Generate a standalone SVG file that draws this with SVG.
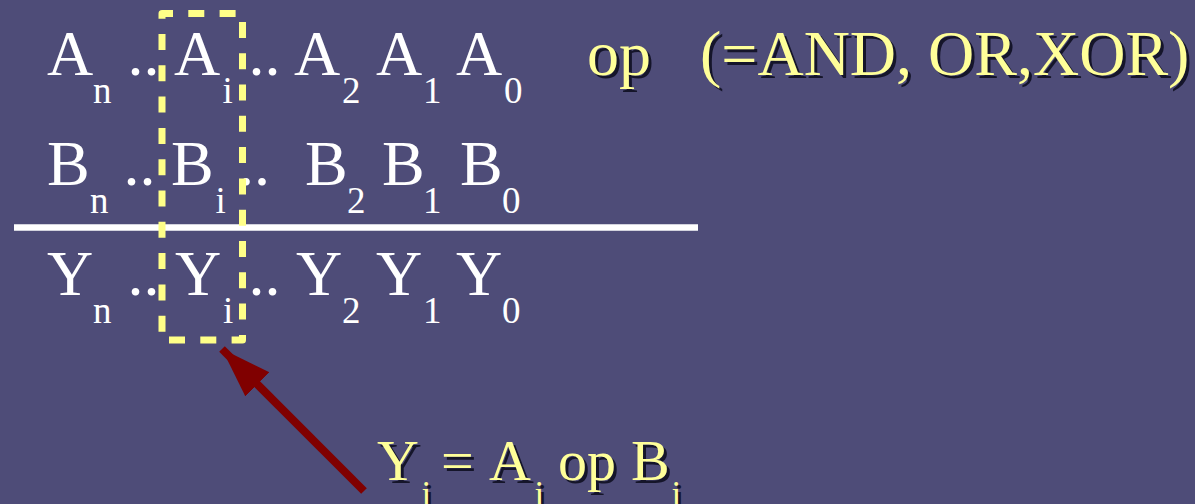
<svg xmlns="http://www.w3.org/2000/svg" width="1195" height="504" viewBox="0 0 1195 504">
<style>
text{font-family:'Liberation Serif','DejaVu Serif',serif}
.m{font-size:64px;fill:#ffffff}
.s{font-size:37px;fill:#ffffff}
.y{font-size:64px;fill:#ffff99}
.ym{font-size:58px;fill:#ffff99}
.ys{font-size:35px;fill:#ffff99}
.sh{fill:#15152a}
</style>
<defs>
<marker id="ah" markerUnits="userSpaceOnUse" markerWidth="60" markerHeight="40" refX="50" refY="17" orient="auto" viewBox="0 0 60 40">
<polygon points="0,0 50,17 0,34" fill="#800000"/>
</marker>
</defs>
<rect width="1195" height="504" fill="#4e4c78"/>

<g id="row-a" font-family="Liberation Serif, serif">
<text class="m" x="47" y="75">A</text><text class="s" x="93" y="102.5">n</text>
<text class="m" x="127.5" y="75">..</text>
<text class="m" x="174" y="75">A</text><text class="s" x="222.5" y="102.5">i</text>
<text class="m" x="248.5" y="75">..</text>
<text class="m" x="294" y="75">A</text><text class="s" x="342" y="102.5">2</text>
<text class="m" x="376" y="75">A</text><text class="s" x="423" y="102.5">1</text>
<text class="m" x="456" y="75">A</text><text class="s" x="504" y="102.5">0</text>
</g>

<g id="op-label">
<text class="y sh" x="590" y="78">op</text>
<text class="y sh" x="703" y="78">(=AND, OR,XOR)</text>
<text class="y" x="587" y="75">op</text>
<text class="y" x="700" y="75">(=AND, OR,XOR)</text>
</g>

<g id="row-b">
<text class="m" x="47" y="185">B</text><text class="s" x="90" y="212.5">n</text>
<text class="m" x="123.5" y="185">..</text>
<text class="m" x="171" y="185">B</text><text class="s" x="215.5" y="212.5">i</text>
<text class="m" x="238" y="185">..</text>
<text class="m" x="305" y="185">B</text><text class="s" x="347" y="212.5">2</text>
<text class="m" x="382" y="185">B</text><text class="s" x="423" y="212.5">1</text>
<text class="m" x="460" y="185">B</text><text class="s" x="502" y="212.5">0</text>
</g>

<g id="sum-line">
<line x1="14" y1="227.5" x2="698" y2="227.5" stroke="#ffffff" stroke-width="6.5"/>
</g>

<g id="row-y">
<text class="m" x="47" y="295">Y</text><text class="s" x="93" y="322.5">n</text>
<text class="m" x="127.5" y="295">..</text>
<text class="m" x="175" y="295">Y</text><text class="s" x="223" y="322.5">i</text>
<text class="m" x="248.5" y="295">..</text>
<text class="m" x="296" y="295">Y</text><text class="s" x="342" y="322.5">2</text>
<text class="m" x="376" y="295">Y</text><text class="s" x="423" y="322.5">1</text>
<text class="m" x="456" y="295">Y</text><text class="s" x="502" y="322.5">0</text>
</g>

<g id="bit-i-box">
<path d="M162,13.5 H242.5 V340 H162 Z" fill="none" stroke="#ffff88" stroke-width="7" stroke-dasharray="16 15.3" stroke-dashoffset="5" stroke-linejoin="round"/>
</g>

<g id="connectors">
<line x1="364" y1="491" x2="222" y2="349" stroke="#800000" stroke-width="8" marker-end="url(#ah)"/>
</g>

<g id="formula">
<text class="ym sh" x="380" y="483">Y</text><text class="ys sh" x="424.5" y="509">i</text>
<text class="ym sh" x="444" y="483">=</text>
<text class="ym sh" x="492" y="483">A</text><text class="ys sh" x="537.5" y="509">i</text>
<text class="ym sh" x="561" y="483">op</text>
<text class="ym sh" x="634" y="483">B</text><text class="ys sh" x="674.5" y="509">i</text>
<text class="ym" x="377" y="480">Y</text><text class="ys" x="421.5" y="506">i</text>
<text class="ym" x="441" y="480">=</text>
<text class="ym" x="489" y="480">A</text><text class="ys" x="534.5" y="506">i</text>
<text class="ym" x="558" y="480">op</text>
<text class="ym" x="631" y="480">B</text><text class="ys" x="671.5" y="506">i</text>
</g>
</svg>
